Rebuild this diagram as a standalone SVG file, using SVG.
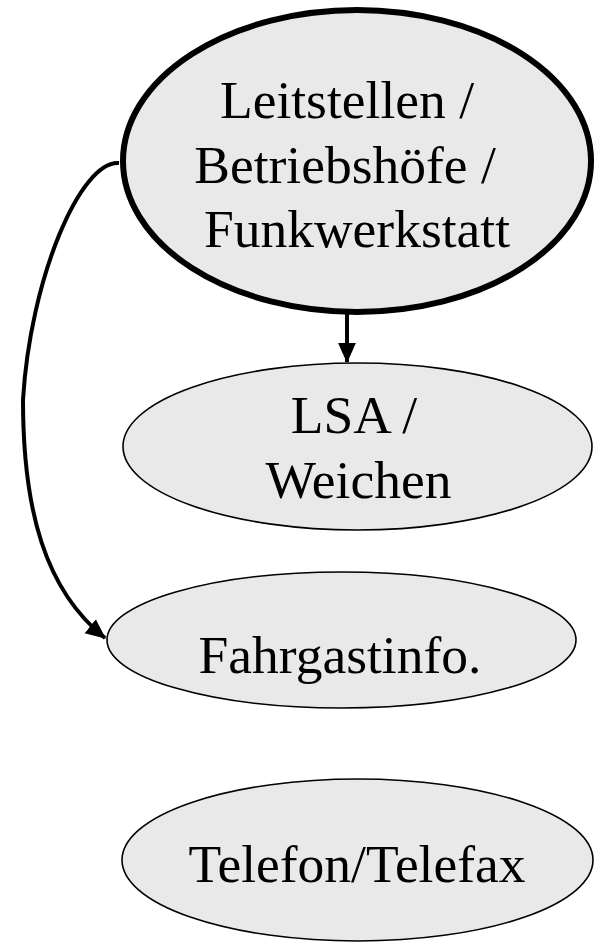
<svg xmlns="http://www.w3.org/2000/svg" width="595" height="943" viewBox="0 0 595 943">
<style>
.n{fill:#e9e9e9;stroke:#000;stroke-width:1.6}
.main{fill:#e9e9e9;stroke:#000;stroke-width:6}
.t{font-family:"Liberation Serif","Times New Roman",serif;font-size:53.5px;fill:#000;text-anchor:middle}
.c{fill:none;stroke:#000;stroke-width:4}
</style>
<defs>
<marker id="ah" markerUnits="userSpaceOnUse" markerWidth="20" markerHeight="20" viewBox="0 0 18 18" refX="17" refY="9" orient="auto">
<path d="M0,1 L18,9 L0,17 Z" fill="#000"/>
</marker>
</defs>
<g id="connectors">
<path class="c" d="M347,312 L347,362" marker-end="url(#ah)"/>
<path class="c" d="M119,163 C80,160 30,280 23,400 C23,510 45,590 105,638" marker-end="url(#ah)"/>
</g>
<g id="node-leitstellen">
<ellipse class="main" cx="357" cy="161" rx="234" ry="151"/>
<text class="t" x="347" y="118">Leitstellen /</text>
<text class="t" x="345" y="183">Betriebshöfe /</text>
<text class="t" x="357" y="247">Funkwerkstatt</text>
</g>
<g id="node-lsa">
<ellipse class="n" cx="357.5" cy="446.5" rx="234.5" ry="83.5"/>
<text class="t" x="354" y="433">LSA /</text>
<text class="t" x="358.5" y="498">Weichen</text>
</g>
<g id="node-fahrgastinfo">
<ellipse class="n" cx="341.5" cy="640" rx="234.5" ry="68"/>
<text class="t" x="340" y="673">Fahrgastinfo.</text>
</g>
<g id="node-telefon">
<ellipse class="n" cx="357.5" cy="860" rx="235.5" ry="81"/>
<text class="t" x="357" y="882">Telefon/Telefax</text>
</g>
</svg>
